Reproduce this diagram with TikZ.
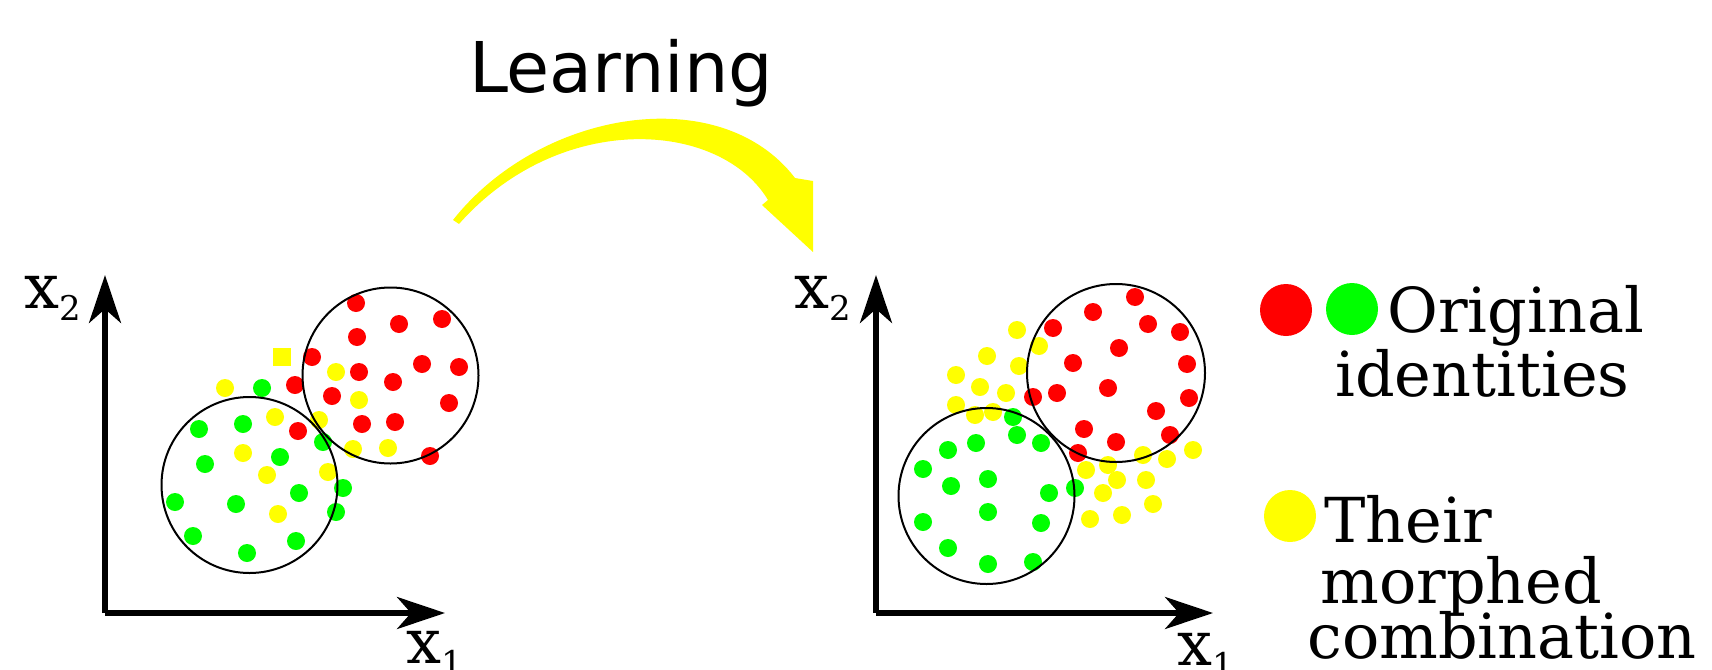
\documentclass[tikz,border=0pt]{standalone}
\usepackage{fontspec}
\setmainfont{DejaVu Serif}
\newfontfamily\fuentetitulo{DejaVu Sans}
\usetikzlibrary{arrows.meta}
\definecolor{rojo}{RGB}{255,0,0}
\definecolor{verde}{RGB}{0,255,0}
\definecolor{amarillo}{RGB}{255,255,0}
\tikzset{
  eje/.style={line width=2.6pt, -{Stealth[length=24pt,width=16pt,inset=7pt]}},
  grupo/.style={draw, line width=1pt},
  etiqeje/.style={font=\fontsize{31}{31}\selectfont, anchor=base west, inner sep=0pt},
  leyenda/.style={font=\fontsize{31}{31}\selectfont, anchor=base west, inner sep=0pt},
  marca/.style={circle, minimum size=26pt, inner sep=0pt}
}
\newcommand{\subx}[1]{x\raisebox{-6pt}{\fontsize{17}{17}\selectfont #1}}

\begin{document}
\begin{tikzpicture}[x=0.5pt, y=-0.5pt]
\useasboundingbox (0,0) rectangle (1712,669);

% Titulo y flecha
\node[font=\fuentetitulo\fontsize{35}{35}\selectfont, anchor=base, inner sep=0pt] (titulo) at (621,92) {Learning};
\fill[amarillo] (453,220) .. controls (540,110) and (720,80) .. (795,178)
  -- (813,181) -- (813,252) -- (762,205) -- (768,200)
  .. controls (720,120) and (560,110) .. (459,224) -- cycle;

% Antes del aprendizaje
\coordinate (o1) at (105,613);
\coordinate (y1) at (105,275);
\coordinate (x1) at (445,613);
\draw[eje] (o1) -- (y1);
\draw[eje] (o1) -- (x1);
\node[etiqeje] (lx2a) at (24,308) {\subx{2}};
\node[etiqeje] (lx1a) at (406,663) {\subx{1}};

\foreach \p in {(356,303),(399,324),(442,319),(357,337),(312,357),(422,364),(459,367),
  (359,372),(393,382),(295,385),(332,396),(449,403),(362,424),(395,422),(298,431),(430,456)}
  \fill[rojo] \p circle[radius=4.5pt];
\foreach \p in {(262,388),(199,429),(243,424),(323,442),(205,464),(280,457),(343,488),
  (299,493),(175,502),(236,504),(336,512),(193,536),(296,541),(247,553)}
  \fill[verde] \p circle[radius=4.5pt];
\foreach \p in {(336,372),(225,388),(359,400),(275,417),(319,420),(243,453),
  (353,449),(388,448),(328,472),(267,475),(278,514)}
  \fill[amarillo] \p circle[radius=4.5pt];
\fill[amarillo] (273,348) rectangle (291,366);
\draw[grupo] (249.5,485) circle[radius=44pt];
\draw[grupo] (390.5,375.5) circle[radius=44pt];

% Despues del aprendizaje
\coordinate (o2) at (876,613);
\coordinate (y2) at (876,275);
\coordinate (x2) at (1213,613);
\draw[eje] (o2) -- (y2);
\draw[eje] (o2) -- (x2);
\node[etiqeje] (lx2b) at (794,308) {\subx{2}};
\node[etiqeje] (lx1b) at (1177,665) {\subx{1}};

\foreach \p in {(1135,297),(1093,312),(1053,328),(1148,324),(1180,332),(1119,348),
  (1073,363),(1187,364),(1108,388),(1057,393),(1033,397),(1189,398),(1156,411),
  (1084,429),(1116,442),(1170,435),(1078,453)}
  \fill[rojo] \p circle[radius=4.5pt];
\foreach \p in {(1017,330),(1039,346),(987,356),(1019,366),(956,375),(980,387),
  (1006,393),(956,405),(975,415),(993,412),(1143,455),(1167,459),(1193,450),
  (1086,470),(1108,465),(1117,480),(1146,480),(1103,493),(1153,504),(1090,519),(1122,515)}
  \fill[amarillo] \p circle[radius=4.5pt];
\foreach \p in {(1013,417),(1017,435),(976,443),(1041,443),(948,450),(923,469),
  (988,479),(951,486),(1075,488),(1049,493),(988,512),(923,522),(1041,523),
  (948,548),(988,564),(1033,562)}
  \fill[verde] \p circle[radius=4.5pt];
\draw[grupo] (986.5,496) circle[radius=44pt];
\draw[grupo] (1116,373) circle[radius=44.5pt];

% Leyenda
\node[marca, fill=rojo] (mrojo) at (1286,310) {};
\node[marca, fill=verde] (mverde) at (1352,309) {};
\node[marca, fill=amarillo] (mamarillo) at (1290,516) {};
\node[leyenda] (orig) at (1387,332) {Original};
\node[leyenda] (ident) at (1335,396) {identities};
\node[leyenda] (their) at (1324,542) {Their};
\node[leyenda] (morph) at (1320,603) {morphed};
\node[leyenda] (comb) at (1307,658) {combination};

\end{tikzpicture}
\end{document}
